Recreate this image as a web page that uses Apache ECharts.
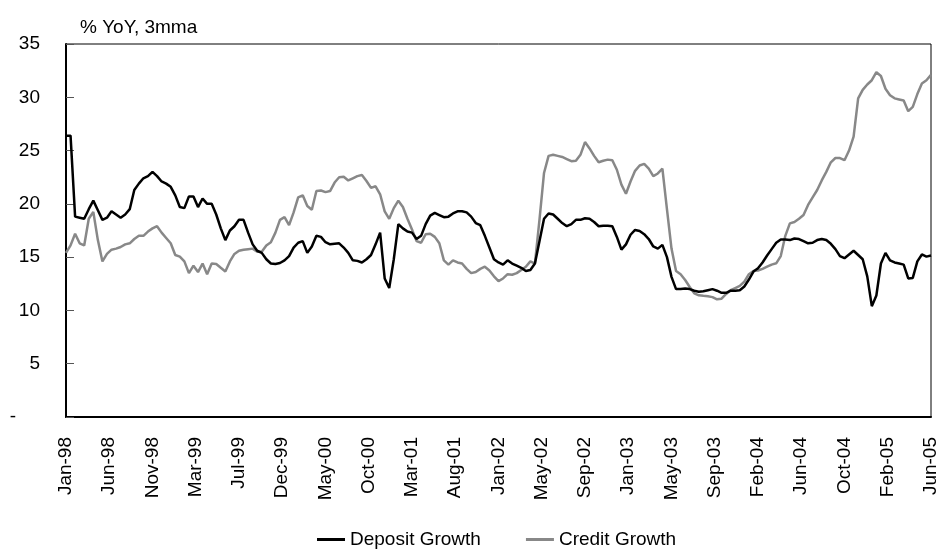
<!DOCTYPE html>
<html>
<head>
<meta charset="utf-8">
<script src="https://cdn.jsdelivr.net/npm/echarts@6/dist/echarts.min.js"></script>
<style>
  html, body { margin: 0; padding: 0; background: #fff; }
  #chart { width: 941px; height: 550px; }
</style>
</head>
<body>
<div id="chart"></div>
<script>
// Date labels along the time axis, evenly spaced from first to last observation
const tickLabels = ['Jan-98','Jun-98','Nov-98','Mar-99','Jul-99','Dec-99','May-00','Oct-00','Mar-01','Aug-01',
  'Jan-02','May-02','Sep-02','Jan-03','May-03','Sep-03','Feb-04','Jun-04','Oct-04','Feb-05','Jun-05'];

// Deposit growth, % YoY, 3-month moving average
const depositGrowth = [
  26.4,26.4,18.8,18.7,18.6,19.5,20.3,19.4,18.5,18.7,
  19.3,19.0,18.7,19.0,19.5,21.3,21.9,22.4,22.6,23.0,
  22.6,22.1,21.9,21.6,20.8,19.7,19.6,20.7,20.7,19.7,
  20.5,20.0,20.0,19.0,17.7,16.6,17.5,17.9,18.5,18.5,
  17.3,16.2,15.6,15.4,14.8,14.4,14.35,14.45,14.7,15.1,
  15.9,16.35,16.5,15.4,16.0,17.0,16.9,16.4,16.2,16.25,
  16.3,15.9,15.4,14.7,14.65,14.5,14.8,15.2,16.2,17.3,
  13.0,12.1,14.8,18.1,17.7,17.4,17.3,16.7,17.0,18.1,
  18.9,19.15,18.95,18.75,18.8,19.1,19.3,19.3,19.2,18.8,
  18.2,18.0,17.0,15.9,14.8,14.5,14.3,14.7,14.4,14.2,
  14.0,13.7,13.8,14.4,16.5,18.6,19.1,19.0,18.6,18.2,
  17.9,18.1,18.5,18.5,18.65,18.6,18.3,17.9,17.95,17.95,
  17.9,16.9,15.7,16.2,17.1,17.55,17.45,17.15,16.7,16.0,
  15.8,16.15,15.0,13.15,12.0,12.0,12.05,12.0,11.85,11.75,
  11.8,11.9,12.0,11.85,11.65,11.65,11.85,11.85,11.9,12.25,
  12.9,13.65,13.95,14.5,15.15,15.75,16.35,16.65,16.65,16.6,
  16.75,16.7,16.5,16.3,16.35,16.6,16.7,16.6,16.25,15.75,
  15.1,14.9,15.25,15.6,15.2,14.8,13.2,10.4,11.4,14.4,
  15.4,14.7,14.5,14.4,14.3,13.0,13.05,14.6,15.25,15.05,
  15.15
];

// Credit growth, % YoY, 3-month moving average
const creditGrowth = [
  15.4,16.1,17.2,16.3,16.1,18.6,19.25,16.6,14.6,15.3,
  15.7,15.8,15.95,16.2,16.3,16.7,17.0,17.0,17.4,17.7,
  17.9,17.3,16.8,16.3,15.2,15.05,14.6,13.5,14.2,13.6,
  14.4,13.4,14.4,14.36,14.0,13.65,14.6,15.3,15.6,15.7,
  15.75,15.8,15.5,15.5,16.1,16.4,17.3,18.5,18.75,18.0,
  19.2,20.6,20.8,19.8,19.45,21.2,21.25,21.1,21.2,22.0,
  22.5,22.55,22.2,22.4,22.6,22.7,22.15,21.5,21.65,20.9,
  19.3,18.6,19.6,20.3,19.7,18.6,17.6,16.5,16.35,17.15,
  17.2,16.9,16.3,14.7,14.3,14.7,14.5,14.4,13.9,13.5,
  13.6,13.9,14.1,13.75,13.2,12.75,13.0,13.4,13.35,13.5,
  13.8,14.1,14.6,14.4,18.5,22.9,24.5,24.6,24.5,24.4,
  24.2,24.0,24.05,24.6,25.8,25.2,24.5,23.9,24.05,24.15,
  24.1,23.2,21.8,20.95,22.1,23.1,23.6,23.75,23.3,22.6,
  22.85,23.3,19.5,15.8,13.7,13.4,12.85,12.2,11.6,11.42,
  11.37,11.33,11.25,11.04,11.1,11.55,11.9,12.1,12.3,12.7,
  13.4,13.7,13.75,13.9,14.1,14.3,14.42,15.1,17.0,18.17,
  18.3,18.6,18.95,19.9,20.6,21.3,22.2,23.0,23.9,24.3,
  24.3,24.1,25.0,26.3,29.9,30.7,31.2,31.6,32.35,32.0,
  30.8,30.2,29.9,29.8,29.7,28.7,29.1,30.3,31.3,31.6,
  32.1
];

const seriesNames = ['Deposit Growth', 'Credit Growth'];
const seriesColors = ['#000000', '#888888'];

const FONT = '"Liberation Sans", Arial, sans-serif';
// Observation index runs 0..lastIndex; date labels sit at equal steps across that span
const lastIndex = depositGrowth.length - 1;
const labelStep = lastIndex / (tickLabels.length - 1);

const chart = echarts.init(document.getElementById('chart'), null, { renderer: 'canvas' });

chart.setOption({
  animation: false,
  backgroundColor: '#ffffff',
  textStyle: { fontFamily: FONT, color: '#000' },
  title: {
    text: '% YoY, 3mma',
    left: 75,
    top: 13,
    textStyle: { fontFamily: FONT, fontSize: 19, fontWeight: 'normal', color: '#000' }
  },
  grid: {
    left: 66, right: 10, top: 44, bottom: 133,
    show: true, borderColor: '#000', borderWidth: 1, backgroundColor: 'transparent'
  },
  legend: {
    left: 312,
    top: 525,
    itemGap: 45,
    itemWidth: 28,
    itemHeight: 3,
    icon: 'rect',
    textStyle: { fontFamily: FONT, fontSize: 19, color: '#000' },
    data: seriesNames
  },
  xAxis: {
    type: 'value',
    min: 0,
    max: lastIndex,
    interval: labelStep,
    axisLine: { show: true, onZero: false, lineStyle: { color: '#000', width: 2 } },
    axisTick: { show: false },
    splitLine: { show: false },
    axisLabel: {
      rotate: 90,
      margin: 20,
      fontFamily: FONT,
      fontSize: 19,
      color: '#000',
      showMinLabel: true,
      showMaxLabel: true,
      formatter: v => tickLabels[Math.round(v / labelStep)] || ''
    }
  },
  yAxis: {
    type: 'value',
    min: 0,
    max: 35,
    interval: 5,
    axisLine: { show: true, lineStyle: { color: '#000', width: 2 } },
    axisTick: { show: true, inside: true, length: 8, lineStyle: { color: '#555', width: 1 } },
    splitLine: { show: false },
    axisLabel: {
      margin: 26,
      fontFamily: FONT,
      fontSize: 19,
      color: '#000',
      formatter: v => (v === 0 ? '{dash|-}' : String(v)),
      rich: { dash: { fontFamily: FONT, fontSize: 19, color: '#000', padding: [0, 24, 0, 0] } }
    }
  },
  series: [
    {
      name: seriesNames[0],
      type: 'line',
      data: depositGrowth.map((v, i) => [i, v]),
      showSymbol: false,
      symbol: 'none',
      lineStyle: { color: seriesColors[0], width: 2.5 },
      itemStyle: { color: seriesColors[0] },
      z: 3
    },
    {
      name: seriesNames[1],
      type: 'line',
      data: creditGrowth.map((v, i) => [i, v]),
      showSymbol: false,
      symbol: 'none',
      lineStyle: { color: seriesColors[1], width: 2.5 },
      itemStyle: { color: seriesColors[1] },
      z: 2
    }
  ]
});
</script>
</body>
</html>
